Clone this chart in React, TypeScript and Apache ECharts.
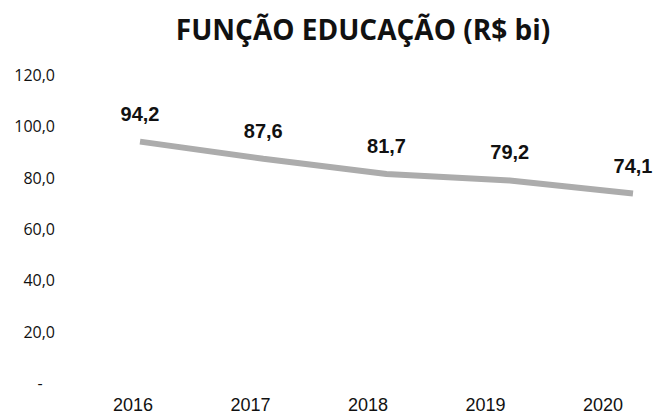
import React, { useEffect, useRef } from "react";
import * as echarts from "echarts";

const categories = ["2016", "2017", "2018", "2019", "2020"];
const values = [94.2, 87.6, 81.7, 79.2, 74.1];
const yTicks = [0, 20, 40, 60, 80, 100, 120];
const title = "FUNÇÃO EDUCAÇÃO (R$ bi)";

const fmt = (v: number) => (v === 0 ? "-\u00a0\u00a0\u00a0" : v.toFixed(1).replace(".", ","));

export default function App() {
  const ref = useRef<HTMLDivElement>(null);
  useEffect(() => {
    if (!ref.current) return;
    const chart = echarts.init(ref.current, null, { renderer: "svg" });
    chart.setOption({
      animation: false,
      backgroundColor: "#ffffff",
      title: {
        text: title,
        left: 358,
        textAlign: "center",
        top: 10,
        textStyle: { fontFamily: "Open Sans", fontWeight: "bold", fontSize: 28, color: "#111" },
      },
      grid: [
        { left: 133, right: 52, top: 75, bottom: 29 },
        { left: 140, right: 22, top: 75, bottom: 29 },
      ],
      xAxis: [
        {
          type: "category",
          gridIndex: 0,
          data: categories,
          boundaryGap: false,
          axisLine: { show: false },
          axisTick: { show: false },
          axisLabel: { fontFamily: "Liberation Sans", fontSize: 18, color: "#111", margin: 13 },
        },
        {
          type: "category",
          gridIndex: 1,
          data: categories,
          boundaryGap: false,
          show: false,
        },
      ],
      yAxis: [
        {
          type: "value",
          gridIndex: 0,
          min: yTicks[0],
          max: yTicks[yTicks.length - 1],
          interval: 20,
          splitLine: { show: false },
          axisLine: { show: false },
          axisTick: { show: false },
          axisLabel: {
            fontFamily: "Open Sans",
            fontSize: 16,
            color: "#111",
            margin: 78,
            formatter: fmt,
          },
        },
        {
          type: "value",
          gridIndex: 1,
          min: yTicks[0],
          max: yTicks[yTicks.length - 1],
          interval: 20,
          show: false,
        },
      ],
      series: [
        {
          type: "line",
          xAxisIndex: 1,
          yAxisIndex: 1,
          data: values,
          symbol: "circle",
          symbolSize: 2,
          showSymbol: true,
          itemStyle: { color: "rgba(169,169,169,0)" },
          lineStyle: { color: "#acacac", width: 6 },
          label: {
            show: true,
            position: "top",
            distance: 17,
            fontFamily: "Liberation Sans",
            fontWeight: "bold",
            fontSize: 20,
            color: "#111",
            formatter: (p: any) => Number(p.value).toFixed(1).replace(".", ","),
          },
        },
      ],
    });
    return () => chart.dispose();
  }, []);
  return <div ref={ref} style={{ width: 655, height: 414, position: "absolute", left: 0, top: 0 }} />;
}
